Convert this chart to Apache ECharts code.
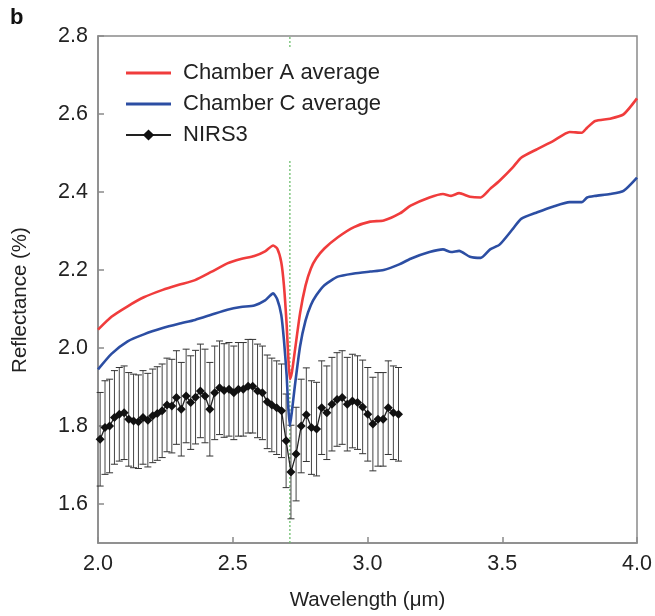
<!DOCTYPE html>
<html>
<head>
<meta charset="utf-8">
<script src="https://cdn.jsdelivr.net/npm/echarts@6/dist/echarts.min.js"></script>
<style>html,body{margin:0;padding:0;background:#fff}#c{width:655px;height:616px}</style>
</head>
<body>
<div id="c"></div>
<script>
// Lab spectra (shared wavelength grid, µm)
var labWavelength = [2.00, 2.05, 2.11, 2.17, 2.24, 2.30, 2.36, 2.42, 2.48, 2.53, 2.58, 2.62, 2.65, 2.665, 2.68, 2.69, 2.70, 2.705, 2.712, 2.72, 2.73, 2.75, 2.77, 2.79, 2.81, 2.84, 2.89, 2.95, 3.01, 3.06, 3.12, 3.16, 3.23, 3.28, 3.31, 3.34, 3.38, 3.42, 3.455, 3.49, 3.54, 3.57, 3.63, 3.69, 3.75, 3.795, 3.815, 3.845, 3.90, 3.95, 4.00];
var chamberA = [2.047, 2.08, 2.107, 2.13, 2.149, 2.162, 2.174, 2.195, 2.217, 2.228, 2.236, 2.248, 2.263, 2.255, 2.22, 2.16, 2.06, 1.99, 1.92, 1.94, 1.99, 2.09, 2.16, 2.204, 2.23, 2.255, 2.284, 2.31, 2.324, 2.327, 2.345, 2.365, 2.386, 2.395, 2.39, 2.397, 2.388, 2.386, 2.408, 2.429, 2.464, 2.488, 2.51, 2.531, 2.554, 2.552, 2.565, 2.582, 2.588, 2.599, 2.64];
var chamberC = [1.945, 1.985, 2.017, 2.035, 2.051, 2.062, 2.072, 2.085, 2.098, 2.105, 2.109, 2.122, 2.14, 2.125, 2.085, 2.02, 1.93, 1.86, 1.80, 1.84, 1.90, 2.005, 2.07, 2.11, 2.135, 2.161, 2.183, 2.191, 2.196, 2.20, 2.215, 2.229, 2.246, 2.253, 2.246, 2.249, 2.234, 2.231, 2.253, 2.265, 2.306, 2.331, 2.348, 2.363, 2.374, 2.374, 2.386, 2.39, 2.395, 2.403, 2.437];

// NIRS3 spectrum
var nirsWavelength = [2.008, 2.026, 2.043, 2.061, 2.079, 2.097, 2.114, 2.132, 2.150, 2.167, 2.185, 2.203, 2.220, 2.238, 2.256, 2.274, 2.291, 2.309, 2.327, 2.344, 2.362, 2.380, 2.397, 2.415, 2.433, 2.451, 2.468, 2.486, 2.504, 2.521, 2.539, 2.557, 2.574, 2.592, 2.610, 2.628, 2.645, 2.663, 2.681, 2.698, 2.716, 2.735, 2.754, 2.773, 2.792, 2.811, 2.830, 2.849, 2.868, 2.887, 2.906, 2.925, 2.944, 2.963, 2.982, 3.001, 3.020, 3.039, 3.058, 3.077, 3.096, 3.115];
var nirsValue = [1.766, 1.796, 1.80, 1.822, 1.83, 1.834, 1.817, 1.813, 1.811, 1.822, 1.815, 1.826, 1.832, 1.839, 1.854, 1.851, 1.873, 1.843, 1.877, 1.86, 1.874, 1.89, 1.877, 1.843, 1.885, 1.898, 1.891, 1.894, 1.885, 1.894, 1.894, 1.902, 1.902, 1.89, 1.885, 1.862, 1.854, 1.847, 1.839, 1.762, 1.682, 1.728, 1.80, 1.829, 1.796, 1.792, 1.847, 1.834, 1.856, 1.868, 1.873, 1.856, 1.864, 1.86, 1.849, 1.83, 1.805, 1.817, 1.817, 1.847, 1.834, 1.83];
var nirsError = [0.12, 0.12, 0.12, 0.12, 0.12, 0.12, 0.12, 0.12, 0.12, 0.12, 0.12, 0.12, 0.12, 0.12, 0.12, 0.12, 0.12, 0.12, 0.12, 0.12, 0.12, 0.12, 0.12, 0.12, 0.12, 0.12, 0.12, 0.12, 0.12, 0.12, 0.12, 0.12, 0.12, 0.12, 0.12, 0.12, 0.12, 0.12, 0.12, 0.12, 0.12, 0.12, 0.12, 0.12, 0.12, 0.12, 0.12, 0.12, 0.12, 0.12, 0.12, 0.12, 0.12, 0.12, 0.12, 0.12, 0.12, 0.12, 0.12, 0.12, 0.12, 0.12];

var markerWavelength = 2.712;
var yTicks = [1.6, 1.8, 2.0, 2.2, 2.4, 2.6, 2.8];
var xTicks = [2.0, 2.5, 3.0, 3.5, 4.0];
var yRange = [1.5, 2.8];
var seriesNames = ['Chamber A average', 'Chamber C average', 'NIRS3'];
var yTitle = 'Reflectance (%)';
var xTitle = 'Wavelength (μm)';

var FONT = 'Liberation Sans, Arial, Helvetica, sans-serif';
var AX = '#8a8a8a';
var LINE_ICON = 'path://M0,0 L45,0 L45,3 L0,3 Z';

function pairs(xs, ys) { return xs.map(function (x, i) { return [x, ys[i]]; }); }

var chart = echarts.init(document.getElementById('c'), null, { renderer: 'canvas' });
chart.setOption({
  animation: false,
  backgroundColor: '#fff',
  textStyle: { fontFamily: FONT },
  graphic: [
    { type: 'text', left: 10, top: 7, style: { text: 'b', font: 'bold 22px ' + FONT, fill: '#111' } },
    { type: 'text', x: 20, y: 300, rotation: Math.PI / 2, style: { text: yTitle, font: '20.5px ' + FONT, fill: '#222', align: 'center', verticalAlign: 'middle' } }
  ],
  grid: { left: 98, top: 36, width: 539, height: 512, show: true, borderColor: AX, borderWidth: 1.5, backgroundColor: 'transparent' },
  legend: {
    data: [
      { name: seriesNames[0], icon: LINE_ICON },
      { name: seriesNames[1], icon: LINE_ICON },
      { name: seriesNames[2] }
    ],
    orient: 'vertical', left: 117, top: 49,
    padding: [12, 12, 12, 8], itemGap: 7, itemWidth: 45, itemHeight: 14,
    backgroundColor: '#fff',
    textStyle: { fontSize: 22, color: '#222', fontFamily: FONT, lineHeight: 24, padding: [0, 0, 0, 7] }
  },
  xAxis: {
    type: 'value', min: 2, max: 4, interval: 0.5,
    name: xTitle, nameLocation: 'middle', nameGap: 47,
    nameTextStyle: { fontSize: 20.5, color: '#222', fontFamily: FONT },
    axisLine: { show: true, lineStyle: { color: AX, width: 1.5 } },
    axisTick: { show: true, inside: true, length: 6, lineStyle: { color: AX, width: 1.5 }, customValues: xTicks },
    axisLabel: { fontSize: 21.5, color: '#222', margin: 10, fontFamily: FONT, customValues: xTicks, formatter: function (v) { return v.toFixed(1); } },
    splitLine: { show: false }
  },
  yAxis: {
    type: 'value', min: yRange[0], max: yRange[1],
    axisLine: { show: true, lineStyle: { color: AX, width: 1.5 } },
    axisTick: { show: true, inside: true, length: 6, lineStyle: { color: AX, width: 1.5 }, customValues: yTicks },
    axisLabel: { fontSize: 21.5, color: '#222', margin: 10, fontFamily: FONT, customValues: yTicks, formatter: function (v) { return v.toFixed(1); } },
    splitLine: { show: false }
  },
  series: [
    {
      type: 'line', name: 'marker', z: 1, silent: true,
      data: [[markerWavelength, yRange[0]], [markerWavelength, yRange[1]]],
      symbol: 'none', lineStyle: { color: '#6cbf6c', type: [2, 2], width: 1.3 }
    },
    {
      type: 'custom', name: 'NIRS3 error', z: 2, silent: true,
      data: nirsWavelength.map(function (w, i) { return [w, nirsValue[i], nirsError[i]]; }),
      encode: { x: 0, y: 1 },
      renderItem: function (params, api) {
        var w = api.value(0), v = api.value(1), e = api.value(2);
        var hi = api.coord([w, v + e]);
        var lo = api.coord([w, v - e]);
        var hw = 3.5;
        var st = { stroke: '#333', lineWidth: 1 };
        return {
          type: 'group', children: [
            { type: 'line', shape: { x1: hi[0], y1: hi[1], x2: lo[0], y2: lo[1] }, style: { stroke: '#444', lineWidth: 1 } },
            { type: 'line', shape: { x1: hi[0] - hw, y1: hi[1], x2: hi[0] + hw, y2: hi[1] }, style: st },
            { type: 'line', shape: { x1: lo[0] - hw, y1: lo[1], x2: lo[0] + hw, y2: lo[1] }, style: st }
          ]
        };
      }
    },
    {
      type: 'line', name: 'NIRS3', z: 3, data: pairs(nirsWavelength, nirsValue),
      symbol: 'diamond', symbolSize: 9, showSymbol: true,
      itemStyle: { color: '#111' }, lineStyle: { color: '#222', width: 1.3 }
    },
    {
      type: 'line', name: 'Chamber C average', z: 4, data: pairs(labWavelength, chamberC),
      symbol: 'none', smooth: 0.2, lineStyle: { color: '#2c4ea3', width: 2.6 }, itemStyle: { color: '#2c4ea3' }
    },
    {
      type: 'line', name: 'Chamber A average', z: 5, data: pairs(labWavelength, chamberA),
      symbol: 'none', smooth: 0.2, lineStyle: { color: '#f03c3c', width: 2.6 }, itemStyle: { color: '#f03c3c' }
    }
  ]
});
</script>
</body>
</html>
